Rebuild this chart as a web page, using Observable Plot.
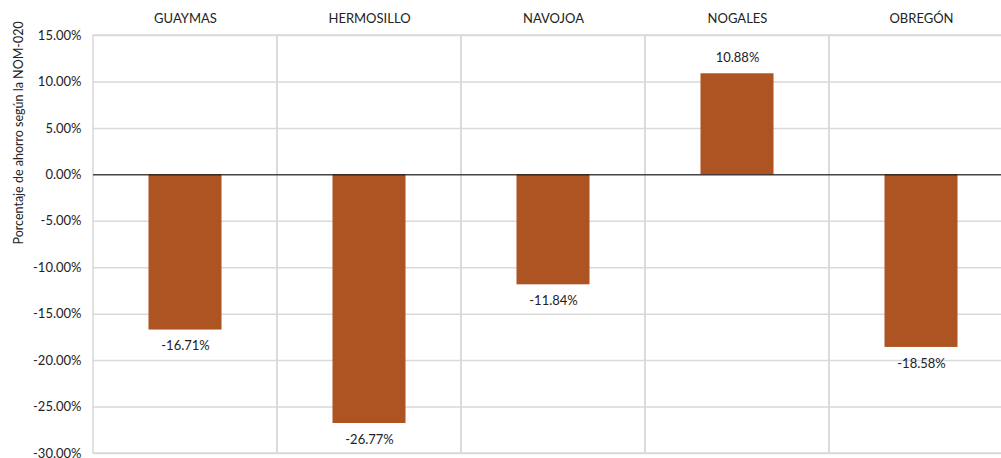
<!DOCTYPE html>
<html>
<head>
<meta charset="utf-8">
<script src="https://cdn.jsdelivr.net/npm/d3@7"></script>
<script src="https://cdn.jsdelivr.net/npm/@observablehq/plot@0.6"></script>
<style>
html, body { margin: 0; padding: 0; background: #fff; overflow: hidden; }
#wrap { width: 1001px; height: 458px; overflow: hidden; }
#wrap svg { max-width: none !important; }
</style>
</head>
<body>
<div id="wrap"></div>
<script>
const categories = ["GUAYMAS", "HERMOSILLO", "NAVOJOA", "NOGALES", "OBREGÓN"];
const values = [-0.1671, -0.2677, -0.1184, 0.1088, -0.1858];
const yTicks = [0.15, 0.10, 0.05, 0, -0.05, -0.10, -0.15, -0.20, -0.25, -0.30];
const yLabel = "Porcentaje de ahorro según la NOM-020";

const data = categories.map((c, i) => ({cat: c, value: values[i]}));
const fmt = d => (d * 100).toFixed(2) + "%";
const font = "Lato, 'Noto Sans', sans-serif";

const chart = Plot.plot({
  width: 1013,
  height: 458,
  marginLeft: 93,
  marginRight: 0,
  marginTop: 35,
  marginBottom: 5,
  style: {fontFamily: font, fontSize: "13px", color: "#222", background: "#fff", maxWidth: "none"},
  x: {type: "band", domain: categories, paddingInner: 0, paddingOuter: 0, axis: "top", tickSize: 0, tickPadding: 13, label: null},
  y: {domain: [-0.30, 0.15], ticks: yTicks, tickFormat: fmt, tickSize: 0, tickPadding: 12, label: null},
  marks: [
    Plot.ruleY(yTicks, {stroke: "#d9d9d9", strokeWidth: 1.5}),
    Plot.barY(categories, {x: d => d, y1: -0.30, y2: 0.15, fill: "none", stroke: "#d9d9d9", strokeWidth: 1.5, inset: 0}),
    Plot.barY(data, {x: "cat", y: "value", fill: "#AE5322", insetLeft: 55.5, insetRight: 55.5}),
    Plot.ruleY([0], {stroke: "#000", strokeWidth: 1}),
    Plot.text(data.filter(d => d.value < 0), {x: "cat", y: "value", text: d => fmt(d.value), dy: 16, fontSize: 13, fill: "#222"}),
    Plot.text(data.filter(d => d.value >= 0), {x: "cat", y: "value", text: d => fmt(d.value), dy: -16, fontSize: 13, fill: "#222"}),
    Plot.text([yLabel], {frameAnchor: "left", dx: -75, rotate: -90, fontSize: 12.5, fill: "#222"})
  ]
});
document.getElementById("wrap").appendChild(chart);
</script>
</body>
</html>
